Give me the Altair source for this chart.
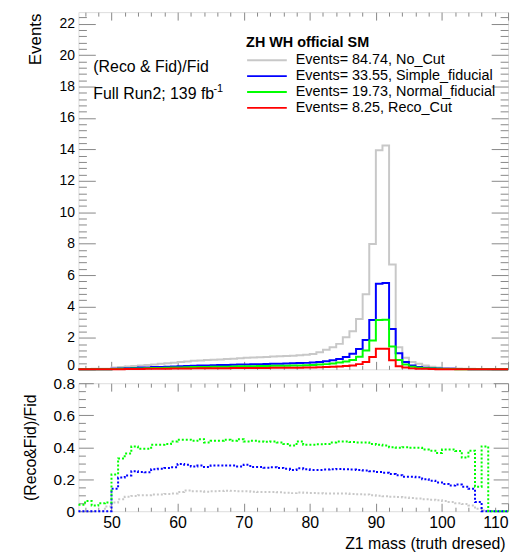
import altair as alt
import pandas as pd

# ---------------- data ----------------
bin_left = list(range(45, 110))  # 1 GeV bins, 45..110

no_cut = [0.02, 0.02, 0.03, 0.03, 0.04,
          0.12, 0.15, 0.18, 0.21, 0.24, 0.28, 0.31, 0.35, 0.38, 0.42,
          0.46, 0.50, 0.54, 0.56, 0.59, 0.61, 0.63, 0.66, 0.68, 0.71,
          0.73, 0.75, 0.77, 0.79, 0.81, 0.83, 0.85, 0.87, 0.90, 0.93,
          0.97, 1.09, 1.24, 1.41, 1.62, 2.04, 2.42, 3.20, 4.78, 7.98,
          13.94, 14.25, 6.67, 1.41, 0.74, 0.46, 0.36, 0.25, 0.17, 0.12,
          0.09, 0.07, 0.05, 0.04, 0.03, 0.02, 0.02, 0.01, 0.01, 0.01]

simple_fid = [0, 0, 0, 0, 0,
              0.03, 0.05, 0.07, 0.09, 0.11, 0.12, 0.14, 0.15, 0.17, 0.18,
              0.20, 0.21, 0.23, 0.24, 0.25, 0.26, 0.27, 0.28, 0.29, 0.30,
              0.31, 0.32, 0.33, 0.34, 0.35, 0.36, 0.37, 0.38, 0.40, 0.41,
              0.43, 0.47, 0.52, 0.58, 0.66, 0.79, 0.99, 1.30, 1.87, 3.14,
              5.45, 5.50, 2.57, 1.03, 0.46, 0.25, 0.15, 0.10, 0.07, 0.05,
              0.04, 0.03, 0.02, 0.02, 0.01, 0.01, 0, 0, 0, 0]

normal_fid = [0.01, 0.01, 0.01, 0.01, 0.01,
              0.02, 0.03, 0.04, 0.05, 0.06, 0.07, 0.08, 0.09, 0.10, 0.11,
              0.12, 0.13, 0.14, 0.15, 0.15, 0.16, 0.17, 0.17, 0.18, 0.19,
              0.19, 0.20, 0.21, 0.21, 0.22, 0.23, 0.23, 0.24, 0.25, 0.26,
              0.27, 0.30, 0.33, 0.37, 0.43, 0.50, 0.60, 0.80, 1.20, 1.83,
              3.14, 3.15, 1.45, 0.60, 0.30, 0.16, 0.10, 0.07, 0.05, 0.03,
              0.02, 0.02, 0.01, 0.01, 0.01, 0.01, 0.005, 0, 0, 0]

reco_cut = [0, 0, 0, 0, 0,
            0.01, 0.01, 0.015, 0.02, 0.025, 0.03, 0.035, 0.04, 0.04, 0.045,
            0.05, 0.055, 0.06, 0.065, 0.065, 0.07, 0.075, 0.075, 0.08, 0.085,
            0.085, 0.09, 0.09, 0.09, 0.095, 0.10, 0.10, 0.10, 0.105, 0.11,
            0.115, 0.125, 0.14, 0.16, 0.18, 0.21, 0.25, 0.33, 0.46, 0.78,
            1.31, 1.31, 0.57, 0.19, 0.12, 0.06, 0.04, 0.03, 0.02, 0.01,
            0.01, 0.005, 0.005, 0.005, 0.005, 0.005, 0.005, 0.005, 0.005, 0.005]

ratio_no_cut = [0, 0, 0, 0, 0.03,
                0.054, 0.074, 0.09, 0.095, 0.10, 0.10, 0.105, 0.105, 0.108, 0.11,
                0.12, 0.13, 0.125, 0.125, 0.122, 0.125, 0.126, 0.128, 0.127, 0.125,
                0.125, 0.122, 0.12, 0.12, 0.12, 0.118, 0.116, 0.113, 0.117, 0.115,
                0.114, 0.112, 0.11, 0.11, 0.11, 0.11, 0.108, 0.106, 0.104, 0.10,
                0.097, 0.094, 0.09, 0.088, 0.085, 0.082, 0.08, 0.075, 0.072, 0.068,
                0.064, 0.058, 0.05, 0.045, 0.035, 0.015, 0.005, 0, 0, 0]

ratio_simple = [0, 0, 0, 0, 0,
                0.14, 0.21, 0.223, 0.25, 0.245, 0.243, 0.262, 0.265, 0.27, 0.275,
                0.295, 0.29, 0.28, 0.285, 0.276, 0.285, 0.285, 0.286, 0.286, 0.28,
                0.29, 0.276, 0.276, 0.272, 0.275, 0.27, 0.265, 0.258, 0.268, 0.262,
                0.258, 0.258, 0.26, 0.262, 0.264, 0.262, 0.26, 0.258, 0.255, 0.25,
                0.245, 0.24, 0.232, 0.225, 0.215, 0.215, 0.212, 0.20, 0.19, 0.18,
                0.17, 0.16, 0.167, 0.153, 0.14, 0.058, 0, 0, 0, 0]

ratio_normal = [0.04, 0.064, 0.035, 0.05, 0.055,
                0.23, 0.33, 0.36, 0.405, 0.39, 0.39, 0.415, 0.415, 0.42, 0.436,
                0.447, 0.447, 0.44, 0.45, 0.43, 0.44, 0.44, 0.447, 0.44, 0.45,
                0.436, 0.44, 0.436, 0.434, 0.436, 0.43, 0.42, 0.41, 0.436, 0.415,
                0.415, 0.418, 0.42, 0.43, 0.436, 0.436, 0.432, 0.43, 0.43, 0.42,
                0.415, 0.41, 0.40, 0.396, 0.40, 0.396, 0.396, 0.385, 0.378, 0.364,
                0.385, 0.385, 0.376, 0.335, 0.378, 0.153, 0.405, 0, 0, 0]

series_names = ["Events= 84.74, No_Cut", "Events= 33.55, Simple_fiducial",
                "Events= 19.73, Normal_fiducial", "Events= 8.25, Reco_Cut"]
series_colors = ["#c8c8c8", "#0000ff", "#00ff00", "#ff0000"]
ratio_colors = ["#c8c8c8", "#0000ff", "#00ff00"]

FONT = "Liberation Sans"
GRAY = "#888888"
W, H1, H2 = 433, 360, 129


def step_table(series_list, names):
    rows = []
    for name, vals in zip(names, series_list):
        for b, v in zip(bin_left, vals):
            rows.append({"mass": b, "value": v, "series": name})
        rows.append({"mass": bin_left[-1] + 1, "value": vals[-1], "series": name})
    return pd.DataFrame(rows)


top_df = step_table([no_cut, simple_fid, normal_fid, reco_cut], series_names)
bot_df = step_table([ratio_no_cut, ratio_simple, ratio_normal], series_names[:3])

xs = alt.Scale(domain=[45, 110], nice=False, zero=False)
ys_top = alt.Scale(domain=[0, 22.74], nice=False, zero=True)
ys_bot = alt.Scale(domain=[0, 0.8], nice=False, zero=True)

x_major = [50, 60, 70, 80, 90, 100, 110]
x_minor = [v for v in range(46, 110, 2) if v % 10 != 0]
yt_major = list(range(0, 23, 2))
yt_minor = [round(i * 0.4, 2) for i in range(0, 57) if i % 5 != 0]
yb_major = [0, 0.2, 0.4, 0.6, 0.8]
yb_minor = [round(i * 0.05, 2) for i in range(0, 17) if i % 4 != 0]


def tick_axis(orient, offset, values, size):
    return alt.Axis(orient=orient, offset=offset, values=values, tickSize=size,
                    labels=False, domain=False, grid=False, ticks=True,
                    tickColor=GRAY, tickWidth=1, title=None)


def panel(df, yscale, ymaj, ymin, H, ytick_big, ytick_small, xaxis_main, yaxis_main, color_enc, dash):
    base = alt.Chart(df)
    main = base.mark_line(interpolate="step-after", strokeWidth=2, strokeDash=dash).encode(
        x=alt.X("mass:Q", scale=xs, axis=xaxis_main),
        y=alt.Y("value:Q", scale=yscale, axis=yaxis_main),
        color=color_enc,
    )
    axes_specs = [
        (tick_axis("top", -H, x_major, 8), tick_axis("right", -W, ymaj, ytick_big)),
        (tick_axis("top", -H, x_minor, 4), tick_axis("right", -W, ymin, ytick_small)),
        (tick_axis("bottom", -H, x_major, 8), tick_axis("left", -W, ymaj, ytick_big)),
        (tick_axis("bottom", -H, x_minor, 4), tick_axis("left", -W, ymin, ytick_small)),
    ]
    layers = [main]
    for ax, ay in axes_specs:
        layers.append(base.mark_line(strokeOpacity=0).encode(
            x=alt.X("mass:Q", scale=xs, axis=ax),
            y=alt.Y("value:Q", scale=yscale, axis=ay),
        ))
    return layers


top_color = alt.Color("series:N", sort=series_names,
                      scale=alt.Scale(domain=series_names, range=series_colors),
                      legend=alt.Legend(title="ZH WH official SM", orient="none",
                                        legendX=169, legendY=24, direction="vertical",
                                        titleFont=FONT, titleFontSize=14.5, titleFontWeight="bold",
                                        titleColor="black", titlePadding=2,
                                        labelFont=FONT, labelFontSize=14.5, labelColor="black",
                                        labelOffset=8, labelLimit=400,
                                        symbolType="stroke", symbolSize=1600, symbolStrokeWidth=2,
                                        clipHeight=16, rowPadding=0, padding=0))

top_x_axis = alt.Axis(orient="bottom", labels=False, ticks=False, domain=False, grid=False, title=None)
top_y_axis = alt.Axis(orient="left", values=yt_major, format="d", ticks=False, domain=False, grid=False,
                      labelFont=FONT, labelFontSize=14, labelColor="black", labelPadding=4,
                      labelOffset={"condition": {"test": "datum.value == 0", "value": -4}, "value": 0},
                      title="Events", titleFont=FONT, titleFontSize=17, titleFontWeight="normal",
                      titleColor="black", titleAngle=270, titleAlign="right", titleBaseline="middle",
                      titleX=-43, titleY=1)

top_layers = panel(top_df, ys_top, yt_major, yt_minor, H1, 17, 8, top_x_axis, top_y_axis, top_color, [1, 0])

ann = alt.Chart(pd.DataFrame({"k": [0]}))
top_layers += [
    ann.mark_text(text="(Reco & Fid)/Fid", align="left", baseline="middle", font=FONT,
                  fontSize=16, color="black").encode(x=alt.value(15), y=alt.value(55)),
    ann.mark_text(text="Full Run2; 139 fb", align="left", baseline="middle", font=FONT,
                  fontSize=16, color="black").encode(x=alt.value(15), y=alt.value(83)),
    ann.mark_text(text="-1", align="left", baseline="middle", font=FONT,
                  fontSize=11, color="black").encode(x=alt.value(136), y=alt.value(78)),
]

top = alt.layer(*top_layers).properties(width=W, height=H1).resolve_axis(x="independent", y="independent")

bot_color = alt.Color("series:N", sort=series_names[:3],
                      scale=alt.Scale(domain=series_names[:3], range=ratio_colors), legend=None)
bot_x_axis = alt.Axis(orient="bottom", values=x_major, format="d", ticks=False, domain=False, grid=False,
                      labelFont=FONT, labelFontSize=16, labelColor="black", labelPadding=3,
                      title="Z1 mass (truth dresed)", titleFont=FONT, titleFontSize=16,
                      titleFontWeight="normal", titleColor="black", titleAlign="right",
                      titleBaseline="middle", titleX=430, titleY=33)
bot_y_axis = alt.Axis(orient="left", values=yb_major, format=".1~f", ticks=False, domain=False, grid=False,
                      labelFont=FONT, labelFontSize=15.5, labelColor="black", labelPadding=4,
                      title="(Reco&Fid)/Fid", titleFont=FONT, titleFontSize=16, titleFontWeight="normal",
                      titleColor="black", titleAngle=270, titleAlign="center", titleBaseline="middle",
                      titleX=-48, titleY=64.5)

bot_layers = panel(bot_df, ys_bot, yb_major, yb_minor, H2, 15, 7, bot_x_axis, bot_y_axis, bot_color, [2, 2])
bot = alt.layer(*bot_layers).properties(width=W, height=H2).resolve_axis(x="independent", y="independent")

chart = alt.vconcat(top, bot, spacing=14, bounds="flush").resolve_scale(color="independent").properties(
    padding={"left": 14, "top": 1, "right": 2, "bottom": 2}
).configure_view(stroke=GRAY, strokeWidth=1).configure(background="white")

chart.save("out.html", embed_options={"renderer": "svg", "actions": False})
